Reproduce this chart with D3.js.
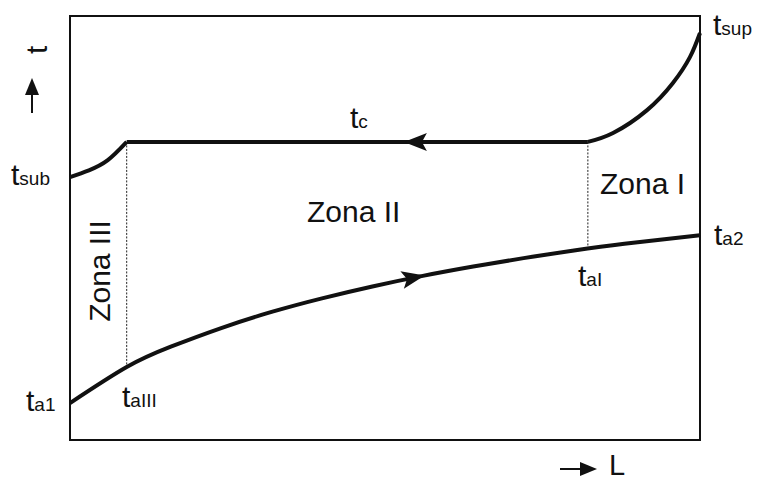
<!DOCTYPE html>
<html lang="es">
<head>
<meta charset="utf-8">
<title>Zonas de temperatura</title>
<script src="https://d3js.org/d3.v7.min.js"></script>
<style>
  body { margin: 0; background: #fff; }
  svg { display: block; font-family: "Liberation Sans", Arial, sans-serif; }
  .curve { fill: none; stroke: #111; stroke-width: 4; stroke-linejoin: round; }
  .zone-line { stroke: #222; stroke-width: 1; stroke-dasharray: 2,1.5; }
  .frame { fill: none; stroke: #111; stroke-width: 2; }
  text { fill: #111; }
</style>
</head>
<body>
<script>
// cold fluid t_a rising from t_a1 to t_a2 (L 0..100, t 0..100)
const coldL = [0, 9, 16, 24, 32, 40, 48, 56, 64, 72, 80, 88, 100];
const coldT = [8.7, 17.2, 22.0, 26.4, 30.2, 33.4, 36.2, 38.7, 40.9, 42.9, 44.7, 46.3, 48.3];

// hot fluid: subcooled part, condensation at t_c, superheated part
const subL = [0, 3, 6, 9];
const subT = [62.0, 63.6, 66.0, 70.3];
const condL = [9.0, 82.2];
const condT = [70.3, 70.3];
const supL = [82.2, 86.2, 91.6, 95.7, 98.4, 100];
const supT = [70.3, 72.4, 77.8, 84.2, 90.3, 96.0];

// zone limits (L) and flow arrows (L position)
const zoneL = [9.0, 82.2];
const arrowL = { hot: 53.0, cold: 56.3 };

const width = 760, height = 482;
const svg = d3.select("body").append("svg")
  .attr("width", width)
  .attr("height", height);

const x = d3.scaleLinear().domain([0, 100]).range([70, 700]);
const y = d3.scaleLinear().domain([0, 100]).range([440, 16]);

const line = d3.line()
  .x(d => x(d[0]))
  .y(d => y(d[1]))
  .curve(d3.curveNatural);

const zip = (a, b) => a.map((v, i) => [v, b[i]]);

// frame
svg.append("rect").attr("class", "frame")
  .attr("x", x(0)).attr("y", y(100))
  .attr("width", x(100) - x(0)).attr("height", y(0) - y(100));

const coldPath = svg.append("path").attr("class", "curve").attr("d", line(zip(coldL, coldT)));
const condPath = svg.append("path").attr("class", "curve").attr("d", line(zip(condL, condT)));
svg.append("path").attr("class", "curve").attr("d", line(zip(subL, subT)));
svg.append("path").attr("class", "curve").attr("d", line(zip(supL, supT)));

function findAtX(node, px) {
  let lo = 0, hi = node.getTotalLength();
  for (let i = 0; i < 40; i++) {
    const mid = (lo + hi) / 2;
    if (node.getPointAtLength(mid).x < px) lo = mid; else hi = mid;
  }
  const p = node.getPointAtLength(lo);
  const q = node.getPointAtLength(Math.min(lo + 1, node.getTotalLength()));
  return { x: p.x, y: p.y, a: Math.atan2(q.y - p.y, q.x - p.x) * 180 / Math.PI };
}

// dotted zone boundaries, from cold curve up to t_c
zoneL.forEach(z => {
  const bottom = findAtX(coldPath.node(), x(z));
  svg.insert("line", "path").attr("class", "zone-line")
    .attr("x1", x(z)).attr("x2", x(z))
    .attr("y1", y(condT[0])).attr("y2", bottom.y);
});

function arrowHead(node, l, reverse) {
  const p = findAtX(node, x(l));
  svg.append("path")
    .attr("d", "M0,0L-23,-9L-18,0L-23,9Z")
    .attr("fill", "#111")
    .attr("transform", `translate(${p.x},${p.y}) rotate(${p.a + (reverse ? 180 : 0)})`);
}
arrowHead(condPath.node(), arrowL.hot, true);
arrowHead(coldPath.node(), arrowL.cold, false);

// labels t with subscript
function tLabel(px, py, sub) {
  const t = svg.append("text").attr("x", px).attr("y", py).style("font-size", "30px");
  t.append("tspan").text("t");
  t.append("tspan").style("font-size", "19px").text(sub);
}
tLabel(713, 35, "sup");
tLabel(11, 185, "sub");
tLabel(350, 128, "c");
tLabel(714, 245, "a2");
tLabel(578, 286, "aI");
tLabel(26, 411, "a1");
tLabel(122, 407, "aIII");

const zoneText = svg.append("g").style("font-size", "30px");
zoneText.append("text").attr("x", 307).attr("y", 222).text("Zona II");
zoneText.append("text").attr("x", 600).attr("y", 194).text("Zona I");
zoneText.append("text")
  .attr("transform", "translate(110,271) rotate(-90)")
  .attr("text-anchor", "middle")
  .text("Zona III");

// axis hints: t up, L right
svg.append("text")
  .attr("transform", "translate(47,54) rotate(-90)")
  .style("font-size", "30px")
  .text("t");
svg.append("line").attr("x1", 32).attr("x2", 32).attr("y1", 113).attr("y2", 90)
  .attr("stroke", "#111").attr("stroke-width", 2);
svg.append("path").attr("d", "M32,78L25,95L39,95Z").attr("fill", "#111");

svg.append("line").attr("x1", 560).attr("x2", 585).attr("y1", 469).attr("y2", 469)
  .attr("stroke", "#111").attr("stroke-width", 2);
svg.append("path").attr("d", "M597,469L580,462L580,476Z").attr("fill", "#111");
svg.append("text").attr("x", 609).attr("y", 475)
  .style("font-size", "29px")
  .text("L");
</script>
</body>
</html>
